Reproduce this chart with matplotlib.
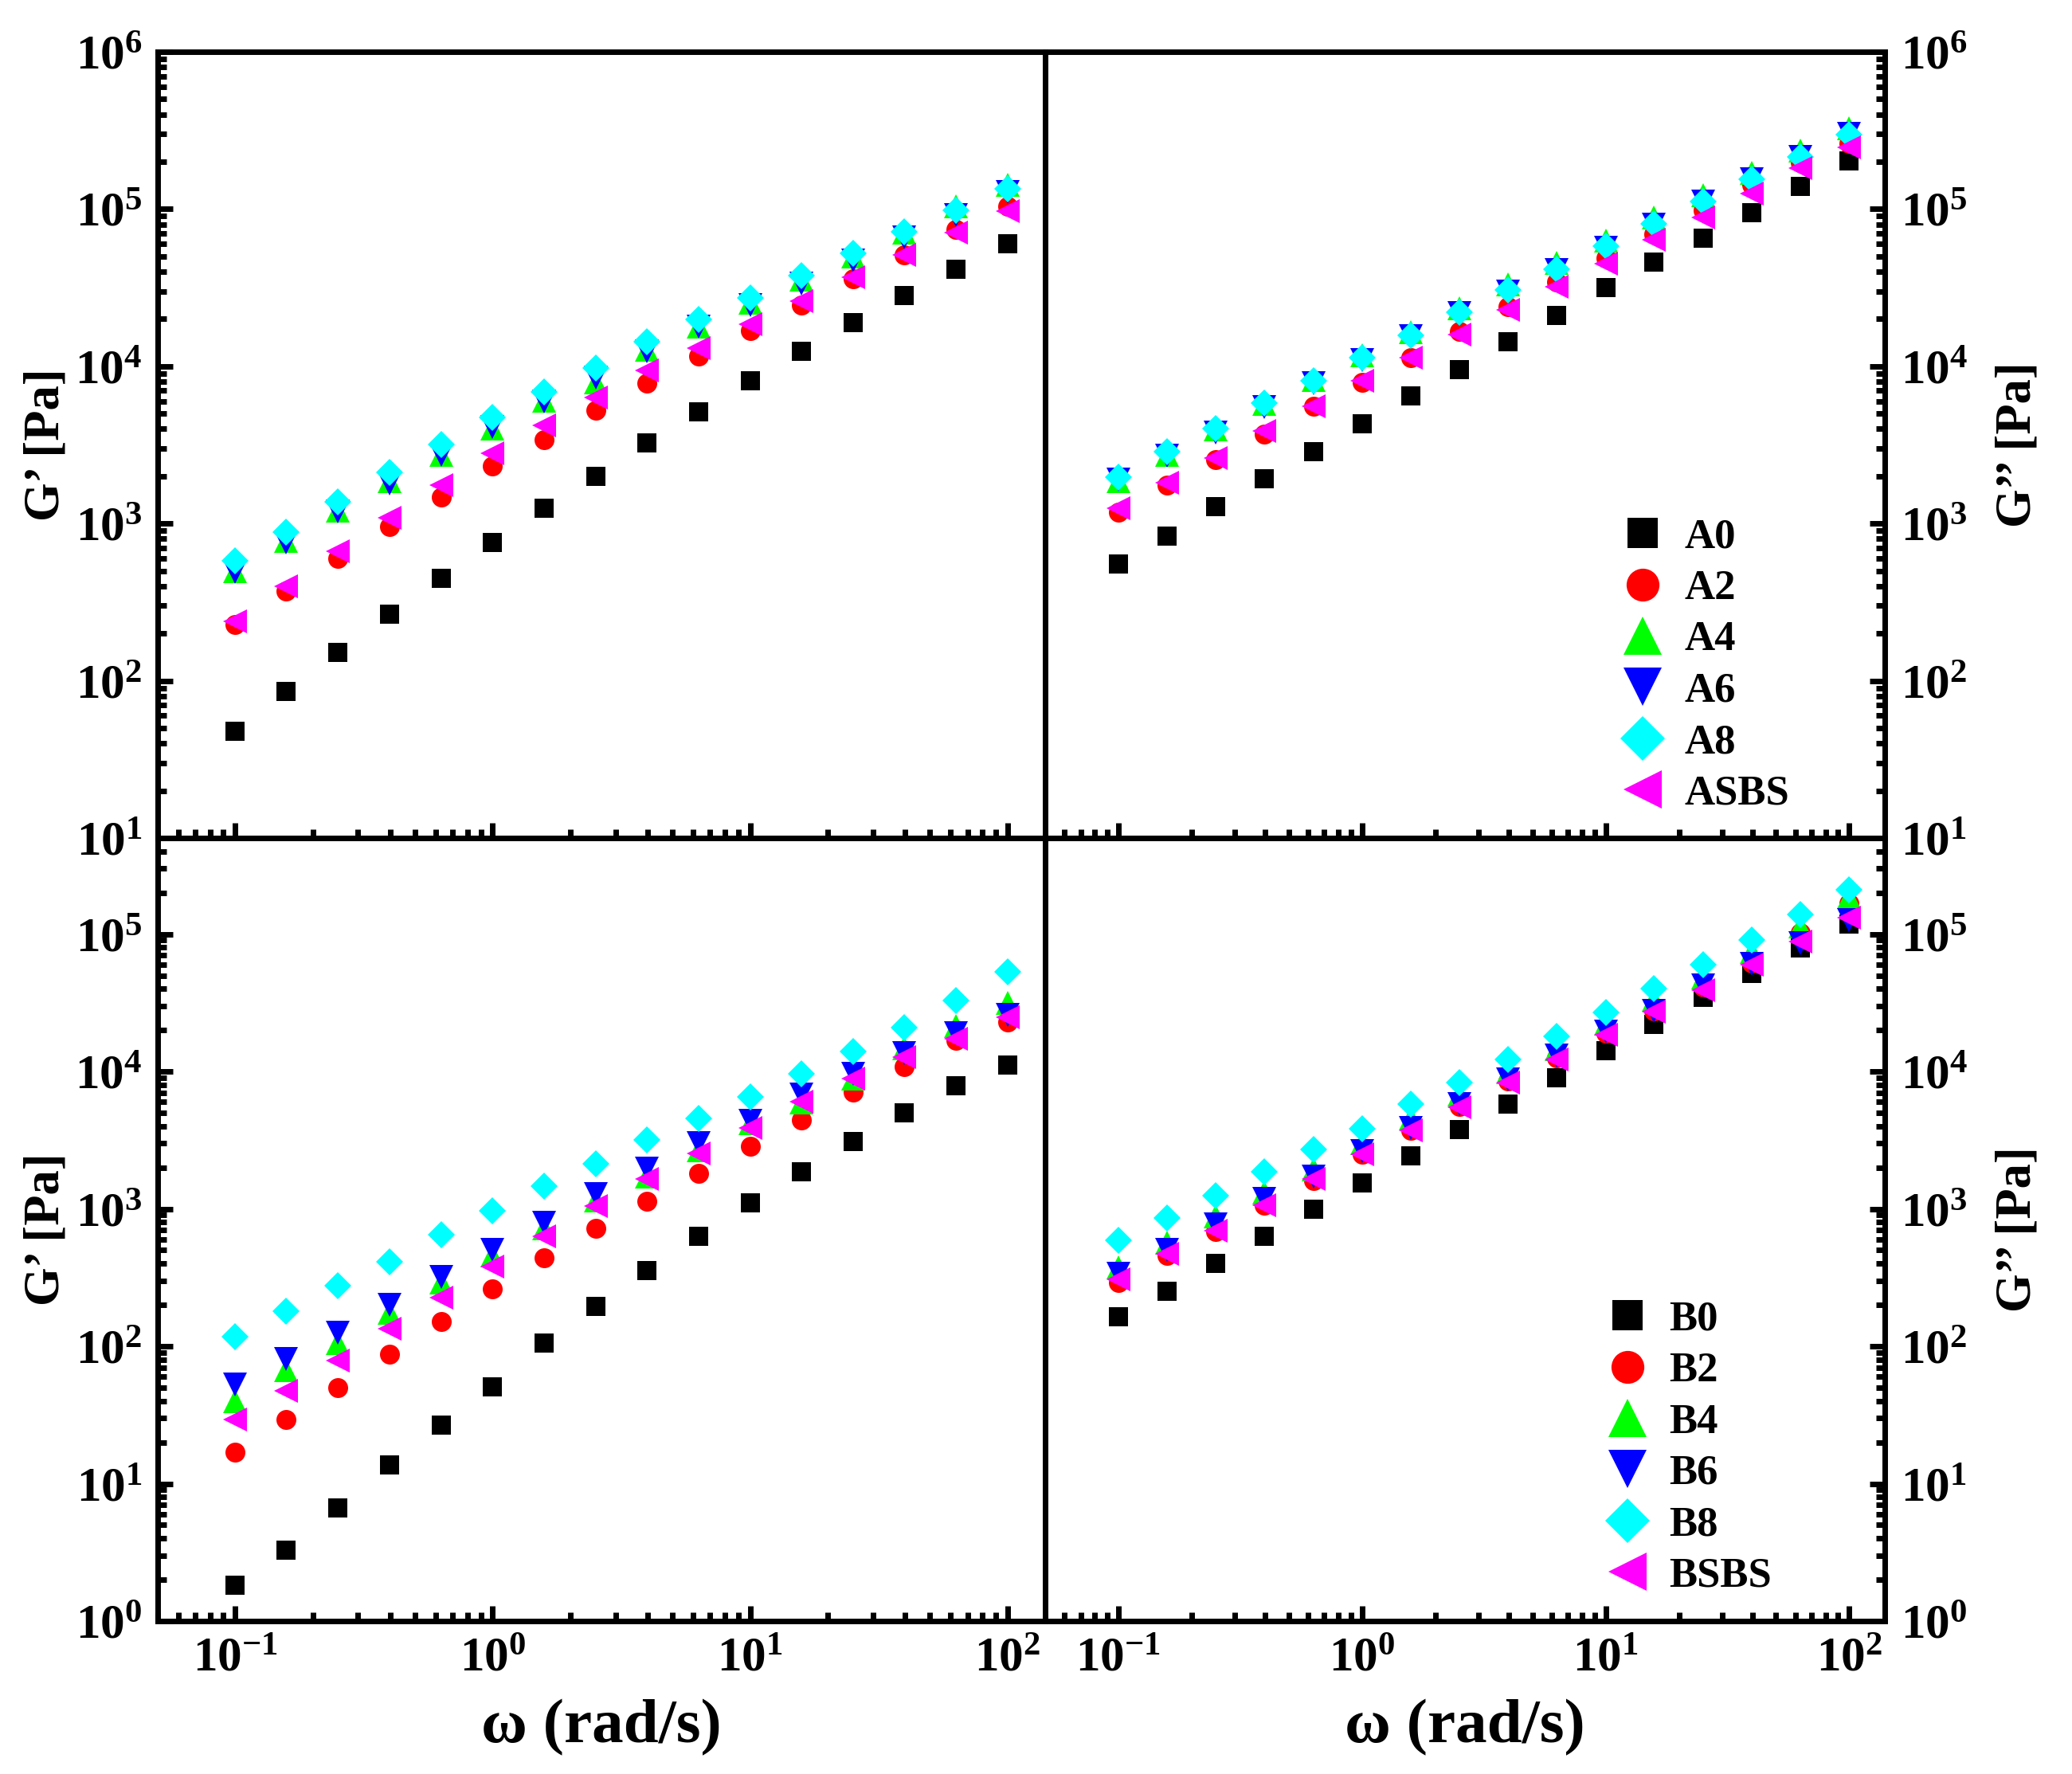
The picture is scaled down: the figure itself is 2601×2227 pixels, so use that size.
import numpy as np
import matplotlib
matplotlib.use('Agg')
import matplotlib.pyplot as plt
from matplotlib.ticker import FuncFormatter, NullFormatter, LogLocator

plt.rcParams['font.family'] = ['Liberation Serif', 'DejaVu Serif']
plt.rcParams['font.weight'] = 'bold'
plt.rcParams['mathtext.fontset'] = 'custom'
plt.rcParams['mathtext.rm'] = 'Liberation Serif:bold'
plt.rcParams['mathtext.bf'] = 'Liberation Serif:bold'
plt.rcParams['mathtext.it'] = 'Liberation Serif:bold'

omega = [0.1, 0.158, 0.251, 0.398, 0.631, 1, 1.58, 2.51, 3.98, 6.31, 10, 15.8, 25.1, 39.8, 63.1, 100]

# top left: G' of A samples
a_gp_A0 = [48, 86, 152, 265, 450, 760, 1250, 2000, 3270, 5150, 8080, 12400, 19000, 28200, 41300, 60000]
a_gp_A2 = [229, 374, 600, 960, 1480, 2310, 3420, 5240, 7820, 11600, 16900, 24400, 36200, 51100, 73800, 104000]
a_gp_A4 = [500, 780, 1210, 1850, 2740, 4030, 6070, 7900, 12700, 17900, 25500, 35500, 50200, 71000, 104000, 142000]
a_gp_A6 = [490, 760, 1190, 1800, 2750, 4100, 6000, 8500, 12400, 17800, 24500, 33500, 47000, 66000, 92000, 128000]
a_gp_A8 = [578, 885, 1370, 2120, 3200, 4750, 6860, 9750, 14300, 19900, 27200, 37700, 52400, 71400, 98400, 134000]
a_gp_ASBS = [238, 399, 664, 1090, 1750, 2790, 4200, 6320, 9370, 13000, 18600, 26100, 36800, 51100, 70900, 96800]

# top right: G'' of A samples
a_gpp_A0 = [554, 836, 1280, 1930, 2880, 4300, 6470, 9520, 14300, 21100, 31800, 45900, 65300, 95200, 140000, 202000]
a_gpp_A2 = [1180, 1750, 2560, 3710, 5580, 7880, 11400, 16600, 24000, 34500, 49000, 69100, 98400, 142000, 197000, 263000]
a_gpp_A4 = [1850, 2750, 3950, 5750, 8200, 11800, 16500, 23500, 33000, 45500, 63000, 88000, 122000, 170000, 235000, 325000]
a_gpp_A6 = [1900, 2700, 3800, 5500, 7800, 11000, 15500, 21800, 30000, 41000, 57000, 80000, 112000, 155000, 215000, 300000]
a_gpp_A8 = [1970, 2860, 4030, 5820, 8080, 11400, 15800, 22000, 30500, 41600, 57800, 80200, 111000, 155000, 214000, 297000]
a_gpp_ASBS = [1250, 1820, 2610, 3870, 5580, 8080, 11400, 16000, 22900, 32000, 45200, 63700, 88500, 126000, 182000, 248000]

# bottom left: G' of B samples
b_gp_B0 = [1.83, 3.28, 6.64, 13.7, 26.7, 50.8, 105, 196, 355, 631, 1110, 1870, 3100, 4970, 7900, 11200]
b_gp_B2 = [17.0, 29.2, 50.3, 87.6, 152, 260, 443, 719, 1140, 1820, 2860, 4450, 7080, 10800, 16800, 23000]
b_gp_B4 = [39.9, 67.4, 106, 175, 290, 457, 719, 1150, 1730, 2660, 4190, 5960, 8910, 14700, 21400, 31400]
b_gp_B6 = [52.4, 80.8, 126, 200, 321, 505, 795, 1280, 1970, 3030, 4400, 6790, 9570, 13700, 19000, 25700]
b_gp_B8 = [117, 179, 276, 413, 650, 972, 1455, 2130, 3160, 4540, 6530, 9660, 14000, 21000, 33000, 53000]
b_gp_BSBS = [29.2, 47.4, 78.3, 134, 226, 381, 631, 1054, 1660, 2530, 3860, 6020, 8830, 12700, 17200, 24900]

# bottom right: G'' of B samples
b_gpp_B0 = [163, 251, 402, 631, 1000, 1550, 2440, 3790, 5820, 8960, 14200, 22000, 34600, 51700, 79400, 119000]
b_gpp_B2 = [292, 458, 684, 1070, 1600, 2510, 3750, 5600, 8520, 12500, 19000, 27700, 41400, 61800, 102000, 168000]
b_gpp_B4 = [375, 571, 878, 1310, 1950, 3010, 4580, 6840, 9900, 14500, 22300, 33200, 48200, 74100, 113000, 186000]
b_gpp_B6 = [339, 506, 771, 1190, 1730, 2640, 3860, 5770, 8780, 13100, 19500, 27700, 42300, 60600, 86000, 127000]
b_gpp_B8 = [589, 861, 1250, 1860, 2690, 3830, 5770, 8350, 12200, 18100, 26900, 40200, 60000, 90500, 138000, 210000]
b_gpp_BSBS = [307, 468, 697, 1070, 1650, 2510, 3750, 5480, 8350, 12200, 18600, 27200, 39000, 60000, 87800, 131000]

labels_a = ['A0', 'A2', 'A4', 'A6', 'A8', 'ASBS']
labels_b = ['B0', 'B2', 'B4', 'B6', 'B8', 'BSBS']

markers = ['s', 'o', '^', 'v', 'D', '<']
sizes = [17, 18, 21, 21, 17, 21]
colors = ['#000000', '#FF0000', '#00FF00', '#0000FF', '#00FFFF', '#FF00FF']

fig = plt.figure(figsize=(26.01, 22.27), dpi=100)

L, M, R = 0.0761, 0.5044, 0.9097
B, MID, T = 0.0862, 0.5276, 0.9708

ax_tl = fig.add_axes([L, MID, M - L, T - MID])
ax_tr = fig.add_axes([M, MID, R - M, T - MID])
ax_bl = fig.add_axes([L, B, M - L, MID - B])
ax_br = fig.add_axes([M, B, R - M, MID - B])

pow_fmt = FuncFormatter(lambda v, pos: r'$\mathbf{10^{%d}}$' % int(round(np.log10(v))))


def draw(ax, series, labels, ylim, side, show_x, legend_at=None):
    for vals, lab, m, s, c in zip(series, labels, markers, sizes, colors):
        ax.plot(omega, vals, linestyle='none', marker=m, markersize=s,
                color=c, markeredgewidth=0, label=lab, clip_on=False)
    ax.set_xscale('log')
    ax.set_yscale('log')
    ax.set_xlim(0.05, 140)
    ax.set_ylim(*ylim)
    for sp in ax.spines.values():
        sp.set_linewidth(5)
    ax.xaxis.set_major_locator(LogLocator(base=10, numticks=20))
    ax.yaxis.set_major_locator(LogLocator(base=10, numticks=20))
    ax.xaxis.set_minor_locator(LogLocator(base=10, subs=np.arange(2, 10), numticks=20))
    ax.yaxis.set_minor_locator(LogLocator(base=10, subs=np.arange(2, 10), numticks=20))
    ax.xaxis.set_major_formatter(pow_fmt)
    ax.yaxis.set_major_formatter(pow_fmt)
    ax.xaxis.set_minor_formatter(NullFormatter())
    ax.yaxis.set_minor_formatter(NullFormatter())
    left = side == 'left'
    ax.tick_params(which='both', direction='in', top=False, bottom=True,
                   left=left, right=not left, labelleft=left, labelright=not left,
                   labelbottom=show_x, labelsize=44, pad=14)
    ax.tick_params(which='major', length=14, width=5)
    ax.tick_params(which='minor', length=8, width=5)
    if left:
        ax.yaxis.set_label_position('left')
    else:
        ax.yaxis.set_label_position('right')
    if show_x:
        ax.set_xlabel(r'ω (rad/s)', fontsize=57, fontweight='bold')
        ax.xaxis.set_label_coords(0.5, -0.1)
    if legend_at is not None:
        ax.legend(loc='lower left', bbox_to_anchor=legend_at, frameon=False,
                  fontsize=38, markerscale=1.65, handlelength=1.0,
                  handletextpad=0.5, labelspacing=0.31, borderpad=0,
                  borderaxespad=0)


draw(ax_tl, [a_gp_A0, a_gp_A2, a_gp_A4, a_gp_A6, a_gp_A8, a_gp_ASBS],
     labels_a, (10, 1e6), 'left', False)
draw(ax_tr, [a_gpp_A0, a_gpp_A2, a_gpp_A4, a_gpp_A6, a_gpp_A8, a_gpp_ASBS],
     labels_a, (10, 1e6), 'right', False, legend_at=(0.686, 0.032))
draw(ax_bl, [b_gp_B0, b_gp_B2, b_gp_B4, b_gp_B6, b_gp_B8, b_gp_BSBS],
     labels_b, (1, 5e5), 'left', True)
draw(ax_br, [b_gpp_B0, b_gpp_B2, b_gpp_B4, b_gpp_B6, b_gpp_B8, b_gpp_BSBS],
     labels_b, (1, 5e5), 'right', True, legend_at=(0.668, 0.033))

for ax in (ax_tl, ax_bl):
    ax.set_ylabel('G\u2019 [Pa]', fontsize=45, fontweight='bold')
    ax.yaxis.set_label_coords(-0.099, 0.5)
for ax in (ax_tr, ax_br):
    ax.set_ylabel('G\u2019\u2019 [Pa]', fontsize=45, fontweight='bold')
    ax.yaxis.set_label_coords(1.131, 0.5)

plt.savefig('out.png', dpi=100)
plt.close()
